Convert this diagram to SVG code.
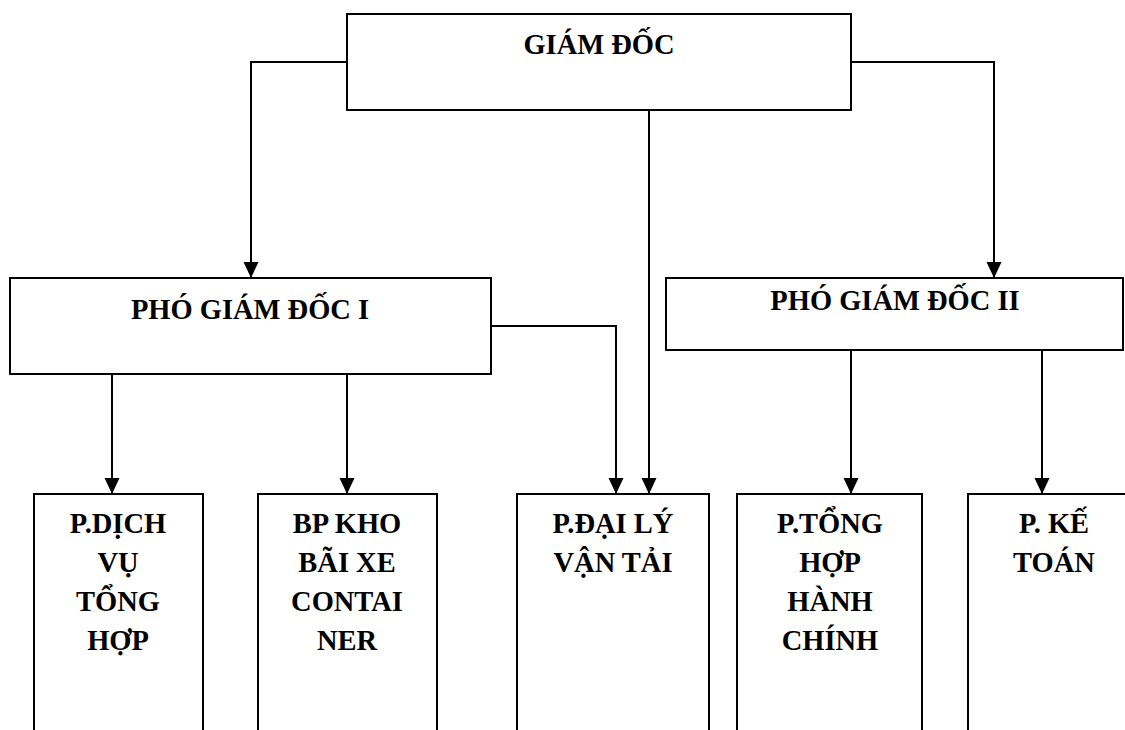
<svg xmlns="http://www.w3.org/2000/svg" width="1125" height="730" viewBox="0 0 1125 730">
<style>
.box{fill:#fff;stroke:#000;stroke-width:2}
.t{font-family:"Liberation Serif","Times New Roman",serif;font-weight:bold;font-size:28.5px;fill:#000;text-anchor:middle;transform-box:fill-box;transform-origin:center;transform:scaleY(1.07)}
.c{fill:none;stroke:#000;stroke-width:2}
</style>
<defs>
<marker id="ah" markerUnits="userSpaceOnUse" markerWidth="16" markerHeight="16" viewBox="0 0 16 16" refX="16" refY="8" orient="auto">
<path d="M0,0.5 L16,8 L0,15.5 Z" fill="#000"/>
</marker>
</defs>
<rect width="1125" height="730" fill="#fff"/>
<g id="connectors">
<path class="c" d="M347,62 H251 V278" marker-end="url(#ah)"/>
<path class="c" d="M851,62 H994 V278" marker-end="url(#ah)"/>
<path class="c" d="M649,110 V494" marker-end="url(#ah)"/>
<path class="c" d="M491,326 H616 V494" marker-end="url(#ah)"/>
<path class="c" d="M112,374 V494" marker-end="url(#ah)"/>
<path class="c" d="M347,374 V494" marker-end="url(#ah)"/>
<path class="c" d="M851,350 V494" marker-end="url(#ah)"/>
<path class="c" d="M1042,350 V494" marker-end="url(#ah)"/>
</g>
<g id="giam-doc">
<rect class="box" x="347" y="14" width="504" height="96"/>
<text class="t" x="599" y="53">GIÁM ĐỐC</text>
</g>
<g id="pho-giam-doc-1">
<rect class="box" x="10" y="278" width="481" height="96"/>
<text class="t" x="250" y="318">PHÓ GIÁM ĐỐC I</text>
</g>
<g id="pho-giam-doc-2">
<rect class="box" x="666" y="278" width="457" height="72"/>
<text class="t" x="895" y="309">PHÓ GIÁM ĐỐC II</text>
</g>
<g id="p-dich-vu">
<rect class="box" x="34" y="494" width="169" height="260"/>
<text class="t" x="118" y="532">P.DỊCH</text>
<text class="t" x="118" y="571">VỤ</text>
<text class="t" x="118" y="610">TỔNG</text>
<text class="t" x="118" y="649">HỢP</text>
</g>
<g id="bp-kho">
<rect class="box" x="258" y="494" width="179" height="260"/>
<text class="t" x="347" y="532">BP KHO</text>
<text class="t" x="347" y="571">BÃI XE</text>
<text class="t" x="347" y="610">CONTAI</text>
<text class="t" x="347" y="649">NER</text>
</g>
<g id="p-dai-ly">
<rect class="box" x="517" y="494" width="192" height="260"/>
<text class="t" x="613" y="532">P.ĐẠI LÝ</text>
<text class="t" x="613" y="571">VẬN TẢI</text>
</g>
<g id="p-tong-hop">
<rect class="box" x="737" y="494" width="185" height="260"/>
<text class="t" x="830" y="532">P.TỔNG</text>
<text class="t" x="830" y="571">HỢP</text>
<text class="t" x="830" y="610">HÀNH</text>
<text class="t" x="830" y="649">CHÍNH</text>
</g>
<g id="p-ke-toan">
<rect class="box" x="968" y="494" width="172" height="260"/>
<text class="t" x="1054" y="532">P. KẾ</text>
<text class="t" x="1054" y="571">TOÁN</text>
</g>
</svg>
